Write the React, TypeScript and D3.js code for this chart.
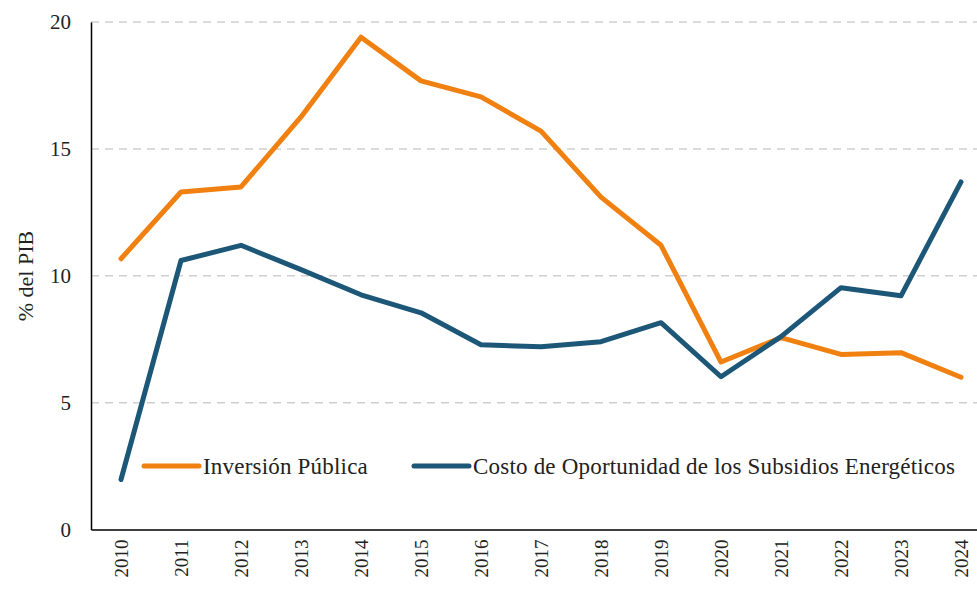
import * as d3 from "d3";
import React, { useRef, useEffect } from "react";

const years = ["2010", "2011", "2012", "2013", "2014", "2015", "2016", "2017", "2018", "2019", "2020", "2021", "2022", "2023", "2024"];
const inversionPublica = [10.67, 13.3, 13.5, 16.26, 19.4, 17.68, 17.05, 15.7, 13.1, 11.2, 6.6, 7.56, 6.9, 6.97, 6.0];
const costoSubsidios = [1.97, 10.6, 11.2, 10.24, 9.25, 8.54, 7.28, 7.2, 7.4, 8.15, 6.02, 7.6, 9.53, 9.21, 13.7];
const yTicks = [0, 5, 10, 15, 20];

const series = [
  { name: "Inversión Pública", values: inversionPublica, color: "#F0800F" },
  { name: "Costo de Oportunidad de los Subsidios Energéticos", values: costoSubsidios, color: "#1D5778" },
];

export default function App() {
  const svgRef = useRef<SVGSVGElement | null>(null);

  useEffect(() => {
    const width = 977;
    const height = 591;
    const left = 91;
    const top = 22;
    const bottom = 529.5;
    const font = "Liberation Serif";

    const svg = d3.select(svgRef.current).attr("width", width).attr("height", height);
    svg.selectAll("*").remove();

    const x = d3.scalePoint().domain(years).range([left, left + 900]).padding(0.5);
    const y = d3.scaleLinear().domain([0, 20]).range([bottom, top]);

    // grid
    svg.append("g")
      .selectAll("line")
      .data(yTicks.filter(t => t > 0))
      .join("line")
      .attr("x1", left)
      .attr("x2", width)
      .attr("y1", d => y(d))
      .attr("y2", d => y(d))
      .attr("stroke", "#d0d0d0")
      .attr("stroke-width", 1.5)
      .attr("stroke-dasharray", "8,6");

    // y axis
    const ya = svg.append("g").attr("transform", `translate(${left},0)`)
      .call(d3.axisLeft(y).tickValues(yTicks).tickSize(0).tickPadding(20));
    ya.attr("font-family", font);
    ya.select(".domain").attr("stroke", "#000").attr("stroke-width", 1.5);
    ya.selectAll("text").attr("font-size", 21).attr("fill", "#222");

    // x axis
    const xa = svg.append("g").attr("transform", `translate(0,${bottom})`)
      .call(d3.axisBottom(x).tickSize(0).tickPadding(0));
    xa.attr("font-family", font);
    xa.select(".domain").attr("stroke", "#000").attr("stroke-width", 1.5);
    xa.selectAll("text")
      .attr("font-size", 19)
      .attr("fill", "#222")
      .attr("transform", "rotate(-90)")
      .attr("x", -10)
      .attr("y", 0)
      .attr("dy", "0.35em")
      .attr("text-anchor", "end");

    // y label
    svg.append("text")
      .attr("transform", `translate(33,276) rotate(-90)`)
      .attr("text-anchor", "middle")
      .attr("font-family", font)
      .attr("font-size", 22)
      .attr("fill", "#222")
      .text("% del PIB");

    const line = d3.line<number>()
      .x((_, i) => x(years[i])!)
      .y(d => y(d));

    svg.append("g")
      .selectAll("path")
      .data(series)
      .join("path")
      .attr("fill", "none")
      .attr("stroke", d => d.color)
      .attr("stroke-width", 5)
      .attr("stroke-linecap", "round")
      .attr("stroke-linejoin", "round")
      .attr("d", d => line(d.values));

    // legend
    const legendX = [144, 414];
    const leg = svg.append("g")
      .selectAll("g")
      .data(series)
      .join("g")
      .attr("transform", (_, i) => `translate(${legendX[i]},466)`);
    leg.append("line")
      .attr("x1", 0)
      .attr("x2", 55)
      .attr("stroke", d => d.color)
      .attr("stroke-width", 5)
      .attr("stroke-linecap", "round");
    leg.append("text")
      .attr("x", 59)
      .attr("dy", "0.35em")
      .attr("font-family", font)
      .attr("font-size", 23)
      .attr("letter-spacing", 0.2)
      .attr("fill", "#222")
      .text(d => d.name);
  }, []);

  return <svg ref={svgRef} style={{ position: "absolute", left: 0, top: 0, display: "block" }} />;
}
